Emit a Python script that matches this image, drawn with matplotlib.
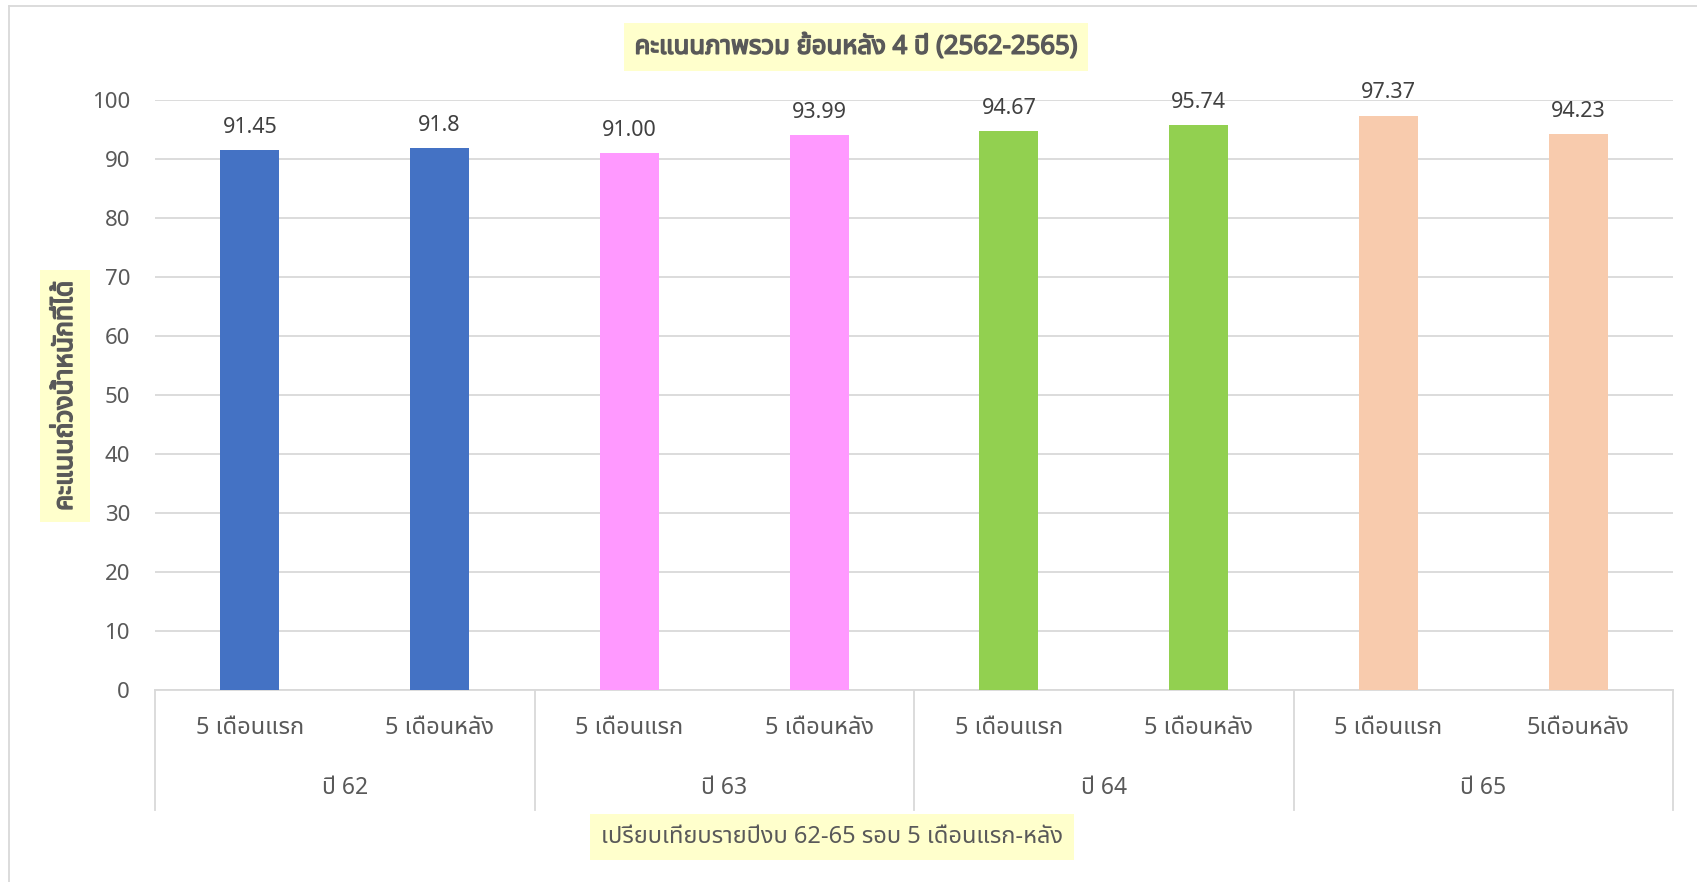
import matplotlib
matplotlib.use('Agg')
import matplotlib.pyplot as plt
import matplotlib.patheffects as pe
from matplotlib import font_manager
from matplotlib.ft2font import FT2Font
from matplotlib.lines import Line2D

# data
groups = ['ปี 62', 'ปี 63', 'ปี 64', 'ปี 65']
periods = ['5 เดือนแรก', '5 เดือนหลัง', '5 เดือนแรก', '5 เดือนหลัง',
           '5 เดือนแรก', '5 เดือนหลัง', '5 เดือนแรก', '5เดือนหลัง']
scores = [91.45, 91.8, 91.00, 93.99, 94.67, 95.74, 97.37, 94.23]
score_labels = ['91.45', '91.8', '91.00', '93.99', '94.67', '95.74', '97.37', '94.23']
bar_colors = ['#4472C4', '#4472C4', '#FF99FF', '#FF99FF',
              '#92D050', '#92D050', '#F8CBAD', '#F8CBAD']
yticks = [0, 10, 20, 30, 40, 50, 60, 70, 80, 90, 100]

title = 'คะแนนภาพรวม ย้อนหลัง 4 ปี (2562-2565)'
ylabel = 'คะแนนถ่วงน้ำหนักที่ได้'
xlabel = 'เปรียบเทียบรายปีงบ 62-65 รอบ 5 เดือนแรก-หลัง'


def thai_family():
    # look for an installed family that can draw Thai
    prefer = ['Noto Sans Thai', 'Noto Sans Thai UI', 'Noto Looped Thai',
              'Leelawadee UI', 'Tahoma', 'Loma', 'Garuda', 'Tlwg Typo']
    found = []
    for f in font_manager.fontManager.ttflist:
        try:
            cmap = FT2Font(f.fname).get_charmap()
        except Exception:
            continue
        if 0x0E04 in cmap and 0x0E49 in cmap:
            found.append(f.name)
    for p in prefer:
        if p in found:
            return p
    return found[0] if found else 'DejaVu Sans'


thai = thai_family()
plt.rcParams['font.family'] = ['Noto Sans', thai, 'DejaVu Sans']

W, H = 1697, 882
fig = plt.figure(figsize=(W / 100, H / 100), dpi=100)
ax_l, ax_r, ax_t, ax_b = 155, 1673, 100, 690
ax = fig.add_axes([ax_l / W, 1 - ax_b / H, (ax_r - ax_l) / W, (ax_b - ax_t) / H])

grey = '#595959'
line_c = '#D9D9D9'
# the Thai face has no bold weight here, so thicken strokes instead
fake_bold = [pe.withStroke(linewidth=1.1, foreground=grey)]

x = list(range(len(scores)))
ax.bar(x, scores, width=0.31, color=bar_colors, zorder=3)
ax.set_xlim(-0.5, len(scores) - 0.5)
ax.set_ylim(0, 100)
ax.set_yticks(yticks)
ax.yaxis.grid(True, color=line_c, linewidth=1.3, zorder=0)
ax.tick_params(axis='y', length=0, pad=18, labelsize=16, labelcolor=grey)
ax.set_xticks([])
for s in ['top', 'right', 'left']:
    ax.spines[s].set_visible(False)
ax.spines['bottom'].set_color(line_c)
ax.spines['bottom'].set_linewidth(1.3)

for xi, v, lab in zip(x, scores, score_labels):
    ax.annotate(lab, (xi, v), xytext=(0, 9), textcoords='offset points',
                ha='center', va='bottom', fontsize=15.5, color='#404040', clip_on=False)

# two-level category axis
trans = ax.get_xaxis_transform()
ax_h = ax_b - ax_t
depth = -120 / ax_h
for k in range(len(groups) + 1):
    xs = k * 2 - 0.5
    ax.add_line(Line2D([xs, xs], [0, depth], transform=trans, color=line_c,
                       linewidth=1.3, clip_on=False))
for xi, p in zip(x, periods):
    ax.text(xi, -38 / ax_h, p, transform=trans, ha='center', va='center',
            fontsize=17, color=grey)
for k, g in enumerate(groups):
    ax.text(k * 2 + 0.5, -98 / ax_h, g, transform=trans, ha='center', va='center',
            fontsize=16.5, color=grey)

# chart frame (cut off at right and bottom)
fig.add_artist(Line2D([9 / W, 9 / W], [0, 1 - 6 / H], color=line_c, linewidth=1.3))
fig.add_artist(Line2D([9 / W, 1], [1 - 6 / H, 1 - 6 / H], color=line_c, linewidth=1.3))

box = dict(facecolor='#FFFFCC', edgecolor='none', pad=8)
fig.text(856 / W, 1 - 47 / H, title, ha='center', va='center', fontsize=18.5,
         color=grey, bbox=box, path_effects=fake_bold)
fig.text(65 / W, 1 - 396 / H, ylabel, ha='center', va='center', fontsize=19,
         color=grey, rotation=90, bbox=box, path_effects=fake_bold)
fig.text(832 / W, 1 - 837 / H, xlabel, ha='center', va='center', fontsize=17,
         color=grey, bbox=box)

fig.savefig('out.png', dpi=100)
